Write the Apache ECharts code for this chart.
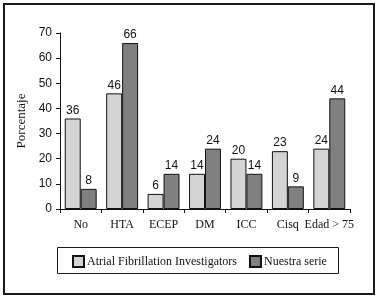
<!DOCTYPE html>
<html><head><meta charset="utf-8">
<script src="https://cdn.jsdelivr.net/npm/echarts@6/dist/echarts.min.js"></script>
<style>html,body{margin:0;padding:0;background:#fff}#c{width:382px;height:299px}</style>
</head><body><div id="c"></div>
<script>
const categories = ['No', 'HTA', 'ECEP', 'DM', 'ICC', 'Cisq', 'Edad > 75'];
const afiValues = [36, 46, 6, 14, 20, 23, 24];
const nuestraValues = [8, 66, 14, 24, 14, 9, 44];
const seriesNames = ['Atrial Fibrillation Investigators', 'Nuestra serie'];
const yTicks = [0, 10, 20, 30, 40, 50, 60, 70];

const chart = echarts.init(document.getElementById('c'), null, {renderer: 'canvas'});
const labelFont = {fontFamily: 'Liberation Sans', fontSize: 12, color: '#111'};
chart.setOption({
  animation: false,
  backgroundColor: '#fff',
  graphic: [
    {type: 'rect', shape: {x: 4, y: 4, width: 370, height: 290}, style: {fill: 'none', stroke: '#1a1a1a', lineWidth: 2}},
    {type: 'rect', shape: {x: 57.5, y: 247.5, width: 281, height: 26}, style: {fill: 'none', stroke: '#1a1a1a', lineWidth: 1}}
  ],
  grid: {left: 60, top: 33, right: 32, bottom: 90},
  legend: {
    left: 72, top: 255, itemWidth: 11, itemHeight: 11, itemGap: 12, padding: 0, icon: 'rect',
    textStyle: {fontFamily: 'Liberation Serif', fontSize: 12, color: '#111', padding: [0, 0, 0, -2]},
    data: seriesNames
  },
  xAxis: {
    type: 'category', data: categories,
    axisLine: {lineStyle: {color: '#111', width: 1}},
    axisTick: {show: true, alignWithLabel: false, length: 4, lineStyle: {color: '#111'}},
    axisLabel: {fontFamily: 'Liberation Serif', fontSize: 12, color: '#111', margin: 10, interval: 0}
  },
  yAxis: {
    type: 'value', min: 0, max: 70, interval: 10,
    name: 'Porcentaje', nameLocation: 'middle', nameGap: 31,
    nameTextStyle: {fontFamily: 'Liberation Serif', fontSize: 13, color: '#111'},
    axisLine: {show: true, lineStyle: {color: '#111'}},
    axisTick: {show: true, length: 4, lineStyle: {color: '#111'}},
    splitLine: {show: false},
    axisLabel: {fontFamily: 'Liberation Sans', fontSize: 12, color: '#111', margin: 8,
      formatter: v => yTicks.includes(v) ? String(v) : ''}
  },
  series: [
    {name: seriesNames[0], type: 'bar', data: afiValues, barGap: '0%', barCategoryGap: '23%',
      itemStyle: {color: '#d4d4d4', borderColor: '#111', borderWidth: 1},
      label: Object.assign({show: true, position: 'top', distance: 2}, labelFont)},
    {name: seriesNames[1], type: 'bar', data: nuestraValues, barGap: '0%', barCategoryGap: '23%',
      itemStyle: {color: '#808080', borderColor: '#111', borderWidth: 1},
      label: Object.assign({show: true, position: 'top', distance: 2}, labelFont)}
  ]
});
</script></body></html>
